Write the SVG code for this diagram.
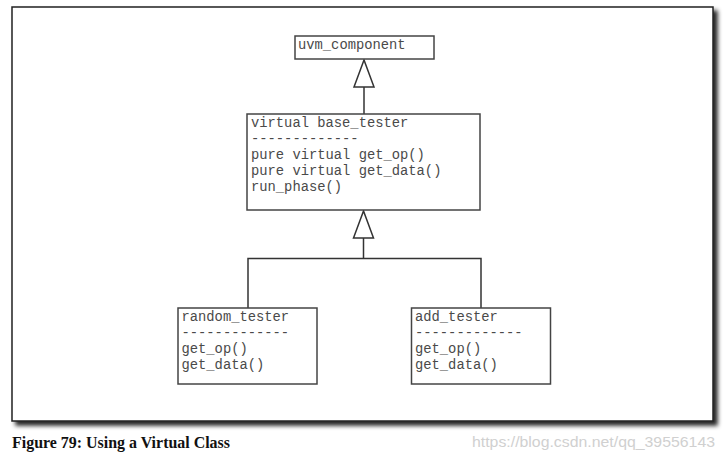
<svg xmlns="http://www.w3.org/2000/svg" width="725" height="458" viewBox="0 0 725 458">
<defs>
<style>
.box{fill:#fff;stroke:#444;stroke-width:1.5}
.t{font-family:"Liberation Mono","Courier New",monospace;font-size:13.8px;fill:#4a4a4a}
.c{fill:none;stroke:#333;stroke-width:1.5}
.tri{fill:#fff;stroke:#333;stroke-width:1.5}
</style>
<filter id="sh" x="-5%" y="-5%" width="115%" height="115%">
<feDropShadow dx="4" dy="4" stdDeviation="2" flood-color="#000" flood-opacity="0.85"/>
</filter>
</defs>
<rect x="0" y="0" width="725" height="458" fill="#fff"/>
<rect id="frame" x="12" y="7" width="701" height="414" fill="#fff" stroke="#222" stroke-width="1.5" filter="url(#sh)"/>
<g id="connectors">
<line class="c" x1="364" y1="87" x2="364" y2="114"/>
<polygon class="tri" points="364,60 354,87 374,87"/>
<line class="c" x1="363.5" y1="238" x2="363.5" y2="258.5"/>
<polyline class="c" points="248,308 248,258.5 481,258.5 481,308"/>
<polygon class="tri" points="363.5,211 353.5,238 373.5,238"/>
</g>
<g id="uvm_component">
<rect class="box" x="295" y="36" width="139" height="23"/>
<text class="t" x="298" y="48.5">uvm_component</text>
</g>
<g id="base_tester">
<rect class="box" x="247" y="114" width="233" height="96"/>
<text class="t" x="251" y="127">virtual base_tester</text>
<text class="t" x="251" y="143">-------------</text>
<text class="t" x="251" y="159">pure virtual get_op()</text>
<text class="t" x="251" y="175">pure virtual get_data()</text>
<text class="t" x="251" y="191">run_phase()</text>
</g>
<g id="random_tester">
<rect class="box" x="178" y="308" width="139" height="76"/>
<text class="t" x="181.5" y="321">random_tester</text>
<text class="t" x="181.5" y="337">-------------</text>
<text class="t" x="181.5" y="353">get_op()</text>
<text class="t" x="181.5" y="369">get_data()</text>
</g>
<g id="add_tester">
<rect class="box" x="411.5" y="308" width="139" height="76"/>
<text class="t" x="415" y="321">add_tester</text>
<text class="t" x="415" y="337">-------------</text>
<text class="t" x="415" y="353">get_op()</text>
<text class="t" x="415" y="369">get_data()</text>
</g>
<text x="12" y="448" font-family="Liberation Serif,'Times New Roman',serif" font-weight="bold" font-size="16.5" textLength="218" lengthAdjust="spacingAndGlyphs" fill="#111">Figure 79: Using a Virtual Class</text>
<text x="472" y="447" font-family="Liberation Sans,Arial,sans-serif" font-size="15" textLength="243" lengthAdjust="spacingAndGlyphs" fill="#d0d0d0">https://blog.csdn.net/qq_39556143</text>
</svg>
